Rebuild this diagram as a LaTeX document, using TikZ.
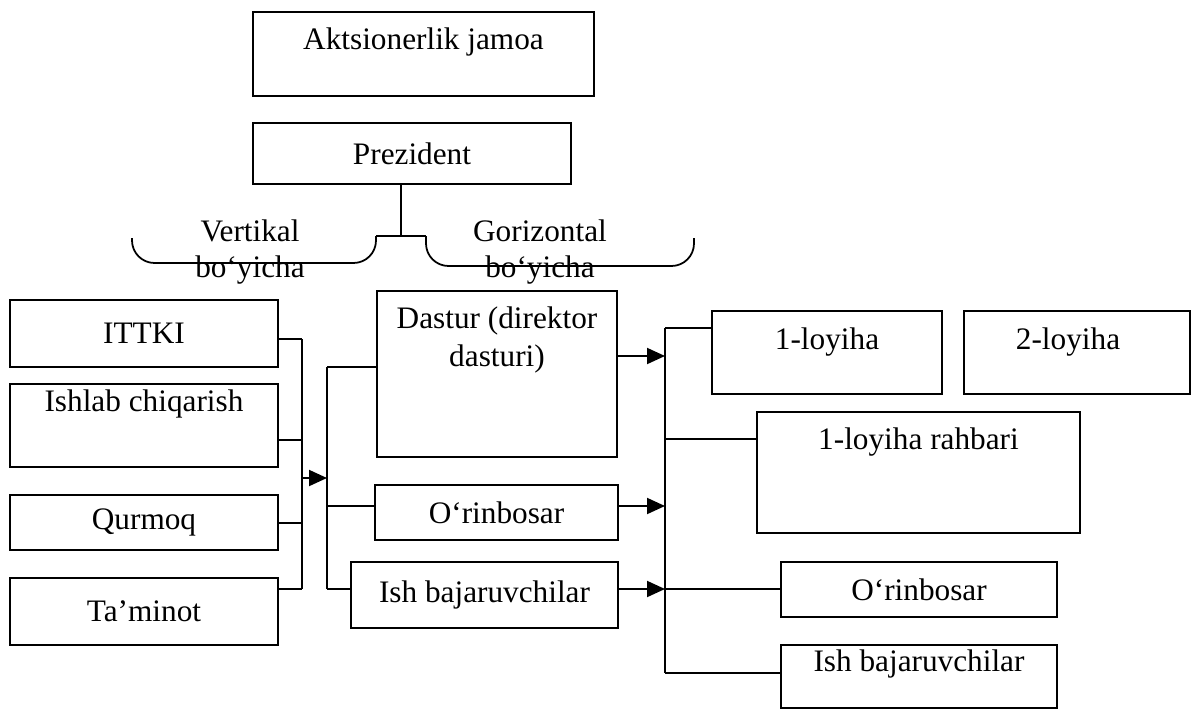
\documentclass[tikz,border=0pt]{standalone}
\usepackage{fontspec}
\setmainfont{Liberation Serif}
\usetikzlibrary{arrows.meta}

\begin{document}
\begin{tikzpicture}[x=0.02cm, y=-0.02cm, font=\fontsize{17.8}{21.6}\selectfont,
    unit/.style ={rectangle, draw, line width=1.1pt, inner sep = 0pt},
    toptext/.style ={anchor=center, inner sep=0pt, align=center},
    link/.style ={line width=1pt},
    arr/.style ={line width=1.1pt, -{Triangle[length=3.6mm, width=3.2mm]}}]
   \useasboundingbox (0,0) rectangle (1193,710);

   % top
   \node[unit, minimum width=6.82cm, minimum height=1.68cm] (ak)
        [label={[toptext, yshift=-0.62cm]north:Aktsionerlik jamoa}] at (423.5,54) {};
   \node[unit, minimum width=6.36cm, minimum height=1.22cm] (prez) at (412,153.5) {Prezident};

   \coordinate (jn) at (401,236);
   \draw[link] (jn |- prez.south) -- (jn);
   \draw[link, rounded corners=0.45cm] (132,238) -- (132,263) -- (376,263) -- (376,236);
   \draw[link] (376,236) -- (426,236);
   \draw[link, rounded corners=0.45cm] (426,236) -- (426,266) -- (694,266) -- (694,238);
   \node[align=center, font=\fontsize{17.8}{20}\selectfont] (vert) at (250,252) {Vertikal\\bo‘yicha};
   \node[align=center, font=\fontsize{17.8}{20}\selectfont] (gor) at (540,252) {Gorizontal\\bo‘yicha};

   % left column
   \node[unit, minimum width=5.36cm, minimum height=1.34cm] (ittki) at (144,333.5) {ITTKI};
   \node[unit, minimum width=5.36cm, minimum height=1.66cm] (ishlab)
        [label={[toptext, yshift=-0.42cm]north:Ishlab chiqarish}] at (144,425.5) {};
   \node[unit, minimum width=5.36cm, minimum height=1.10cm] (qurmoq) at (144,522.5) {Qurmoq};
   \node[unit, minimum width=5.36cm, minimum height=1.34cm] (taminot) at (144,611.5) {Ta’minot};

   % middle column
   \node[unit, minimum width=4.80cm, minimum height=3.32cm] (dastur)
        [label={[toptext, yshift=-1.0cm]north:Dastur (direktor\\dasturi)}] at (497,374) {};
   \node[unit, minimum width=4.86cm, minimum height=1.10cm] (orin1) at (496.5,512.5) {O‘rinbosar};
   \node[unit, minimum width=5.34cm, minimum height=1.32cm] (ish1) at (484.5,595) {Ish bajaruvchilar};

   % right column
   \node[unit, minimum width=4.60cm, minimum height=1.66cm] (loy1)
        [label={[toptext, yshift=-0.64cm]north:1-loyiha}] at (827,352.5) {};
   \node[unit, minimum width=4.52cm, minimum height=1.66cm] (loy2)
        [label={[toptext, yshift=-0.64cm, xshift=-0.18cm]north:2-loyiha}] at (1077,352.5) {};
   \node[unit, minimum width=6.46cm, minimum height=2.42cm] (rahbar)
        [label={[toptext, yshift=-0.62cm]north:1-loyiha rahbari}] at (918.5,472.5) {};
   \node[unit, minimum width=5.52cm, minimum height=1.10cm] (orin2) at (919,589.5) {O‘rinbosar};
   \node[unit, minimum width=5.52cm, minimum height=1.26cm] (ish2)
        [label={[toptext, yshift=-0.40cm]north:Ish bajaruvchilar}] at (919,676.5) {};

   % buses
   \coordinate (b1) at (302,339);
   \coordinate (b2) at (302,440);
   \coordinate (b3) at (302,523);
   \coordinate (b4) at (302,589);
   \coordinate (bm) at (302,478);
   \coordinate (c1) at (327,367);
   \coordinate (c2) at (327,506);
   \coordinate (c3) at (327,589);
   \coordinate (cm) at (327,478);
   \coordinate (d1) at (665,356);
   \coordinate (d2) at (665,506);
   \coordinate (d3) at (665,589);
   \coordinate (e1) at (665,328);
   \coordinate (e2) at (665,439);
   \coordinate (e4) at (665,673);

   \draw[link] (ittki.east |- b1) -- (b1);
   \draw[link] (ishlab.east |- b2) -- (b2);
   \draw[link] (qurmoq.east |- b3) -- (b3);
   \draw[link] (taminot.east |- b4) -- (b4);
   \draw[link] (b1) -- (b4);
   \draw[arr] (bm) -- (cm);

   \draw[link] (c1) -- (c3);
   \draw[link] (c1) -- (dastur.west |- c1);
   \draw[link] (c2) -- (orin1.west |- c2);
   \draw[link] (c3) -- (ish1.west |- c3);

   \draw[arr] (dastur.east |- d1) -- (d1);
   \draw[arr] (orin1.east |- d2) -- (d2);
   \draw[arr] (ish1.east |- d3) -- (d3);

   \draw[link] (e1) -- (e4);
   \draw[link] (e1) -- (loy1.west |- e1);
   \draw[link] (e2) -- (rahbar.west |- e2);
   \draw[link] (d3) -- (orin2.west |- d3);
   \draw[link] (e4) -- (ish2.west |- e4);
 \end{tikzpicture}
\end{document}
